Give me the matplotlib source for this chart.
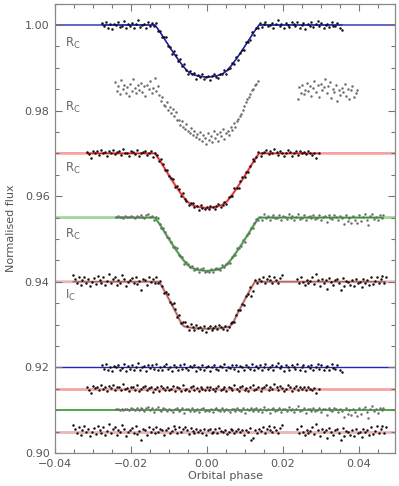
import numpy as np
import matplotlib
matplotlib.use("Agg")
import matplotlib.pyplot as plt
from matplotlib.ticker import MultipleLocator

# ---- transit shapes (fraction of full depth) ----
RC_SHAPE_PHASE = [-0.06, -0.0137, -0.0125, -0.0110, -0.0095, -0.0080, -0.0065, -0.0052, -0.0040,
                  -0.0025, 0.0, 0.0025, 0.0040, 0.0052, 0.0065, 0.0080, 0.0095, 0.0110, 0.0125,
                  0.0137, 0.06]
RC_SHAPE = [0, 0, 0.12, 0.29, 0.46, 0.62, 0.77, 0.88, 0.94, 0.975, 1.0, 0.975, 0.94, 0.88, 0.77,
            0.62, 0.46, 0.29, 0.12, 0, 0]
IC_SHAPE_PHASE = [-0.06, -0.0126, -0.0110, -0.0095, -0.0080, -0.0068, -0.0060, -0.0040, 0.0,
                  0.0040, 0.0060, 0.0068, 0.0080, 0.0095, 0.0110, 0.0126, 0.06]
IC_SHAPE = [0, 0, 0.22, 0.45, 0.68, 0.88, 0.95, 0.98, 1.0, 0.98, 0.95, 0.88, 0.68, 0.45, 0.22, 0, 0]

# baselines and depths of the four fitted light curves
BASE = {"blue": 1.000, "red": 0.970, "green": 0.955, "ic": 0.940}
DEPTH = {"blue": 0.0122, "red": 0.0128, "green": 0.0125, "ic": 0.0110}
RESID_LEVEL = {"blue": 0.920, "red": 0.915, "green": 0.910, "ic": 0.905}

# ---- observations: phase and residual, both in units of 1e-4 ----
blue_phase = [
    -276, -271, -266, -260, -255, -250, -245, -239, -234, -229,
    -224, -218, -213, -208, -203, -197, -192, -187, -182, -176,
    -171, -166, -161, -155, -150, -145, -140, -134, -129, -124,
    -119, -113, -108, -103, -98, -92, -87, -82, -77, -71,
    -66, -61, -56, -50, -45, -40, -35, -29, -24, -19,
    -14, -8, -3, 2, 7, 13, 18, 23, 28, 34,
    39, 44, 49, 55, 60, 65, 70, 76, 81, 86,
    91, 97, 102, 107, 112, 118, 123, 128, 133, 139,
    144, 149, 154, 160, 165, 170, 175, 181, 186, 191,
    196, 202, 207, 212, 217, 223, 228, 233, 238, 244,
    249, 254, 259, 265, 270, 275, 280, 286, 291, 296,
    301, 307, 312, 317, 322, 328, 333, 338, 343, 349,
    355]
blue_resid = [
    5, -3, 8, -6, 2, -9, 3, 0, 6, -5,
    -2, 9, -8, 3, -3, 5, -6, 2, 11, -5,
    0, 3, -8, 6, -2, 5, -3, 8, -5, 2,
    -6, 3, 9, -3, 0, -8, 5, 2, -5, 6,
    -3, 8, -2, -6, 3, 0, 5, -9, 2, -3,
    6, -5, 0, 3, -8, 2, 5, -3, -6, 3,
    0, 8, -5, 2, -2, 6, -3, 5, -8, 3,
    2, -5, 6, 0, -3, 9, -6, 3, -2, 5,
    -5, 2, 8, -3, 0, 5, -6, 3, 11, -2,
    3, -8, 5, 0, -5, 6, 2, -3, 8, -6,
    0, 5, -9, 3, -2, 6, -5, 2, 9, -3,
    5, -6, 0, 3, -5, 8, -2, -3, 5, -6,
    -11]

red_phase = [
    -316, -311, -306, -300, -295, -290, -285, -279, -274, -269,
    -264, -258, -253, -248, -243, -237, -232, -227, -222, -216,
    -211, -206, -201, -195, -190, -185, -180, -174, -169, -164,
    -159, -153, -148, -143, -138, -132, -127, -122, -117, -111,
    -106, -101, -96, -90, -85, -80, -75, -69, -64, -59,
    -54, -48, -43, -38, -33, -27, -22, -17, -12, -6,
    -1, 4, 9, 15, 20, 25, 30, 36, 41, 46,
    51, 57, 62, 67, 72, 78, 83, 88, 93, 99,
    104, 109, 114, 120, 125, 130, 135, 141, 146, 151,
    156, 162, 167, 172, 177, 183, 188, 193, 198, 204,
    209, 214, 219, 225, 230, 235, 240, 246, 251, 256,
    261, 267, 272, 277, 282, 288, 295]
red_resid = [
    3, -2, -10, 6, 2, 5, -3, 8, 0, 3,
    -5, 6, 2, 9, -2, 3, 5, -3, 11, 0,
    2, -6, 5, 3, -2, 8, -5, 0, 3, 6,
    -3, 2, 5, -8, 0, 3, -5, 6, 2, -2,
    5, -3, 0, 6, -6, 3, 2, -5, 8, -2,
    0, -5, 3, 6, -3, 2, -6, 5, 0, -3,
    3, -2, 5, 0, -5, 2, 6, -3, 0, 3,
    -6, 5, 2, -3, 8, 0, -5, 3, 6, -2,
    2, -5, 3, 9, -3, 0, 5, -6, 2, 3,
    8, -2, 5, 0, 11, 3, -3, 6, 2, -5,
    0, 8, 3, -5, 2, 6, -3, 5, 0, 3,
    -2, 5, 0, -3, 2, -10, 0]

green_phase = [
    -240, -235, -230, -225, -220, -215, -210, -205, -200, -195,
    -190, -185, -180, -175, -170, -165, -160, -155, -150, -145,
    -140, -135, -130, -125, -120, -115, -110, -105, -100, -95,
    -90, -85, -80, -75, -70, -65, -60, -55, -50, -45,
    -40, -35, -30, -25, -20, -15, -10, -5, 0, 5,
    10, 15, 20, 25, 30, 35, 40, 45, 50, 55,
    60, 65, 70, 75, 80, 85, 90, 95, 100, 105,
    110, 115, 120, 125, 130, 135, 140, 145, 150, 155,
    160, 165, 170, 175, 180, 185, 190, 195, 200, 205,
    210, 215, 220, 225, 230, 235, 240, 245, 250, 255,
    260, 265, 270, 275, 280, 285, 290, 295, 300, 305,
    310, 315, 320, 325, 330, 335, 340, 345, 350, 355,
    360, 365, 370, 375, 380, 385, 390, 395, 400, 405,
    410, 415, 420, 425, 430, 435, 440, 445, 450, 455,
    460, 463]
green_resid = [
    2, 3, 1, 2, 0, 3, 2, 1, 4, 2,
    0, 4, 1, 6, 2, -2, 5, 8, 1, 4,
    -5, 3, 8, 0, -3, 5, 2, -2, 3, 0,
    -5, 2, 6, -3, 0, 5, -6, 3, 2, -2,
    5, -3, 0, 3, -5, 2, 6, -2, 0, -3,
    3, -5, 2, 5, 0, -3, 6, -2, 3, 0,
    -5, 3, 2, -3, 6, 0, -2, 5, -6, 3,
    0, 5, -2, 3, 6, -3, 2, -5, 8, 0,
    3, -6, 2, 5, -2, 0, 6, -5, 3, 2,
    -3, 8, 0, 3, -5, 2, 9, -3, 0, 5,
    -6, 2, 3, -2, 5, -3, 0, 6, -5, 2,
    3, -11, 5, 0, -3, 6, 2, -5, 3, -2,
    -16, 5, -8, 0, -12, 3, -5, -13, 6, -9,
    2, 8, -5, -18, 3, 9, -3, 2, -6, 5,
    0, 6]

ic_phase = [
    -353, -348, -343, -338, -333, -328, -323, -318, -313, -308,
    -303, -298, -293, -288, -283, -278, -273, -268, -263, -258,
    -253, -248, -243, -238, -233, -228, -223, -218, -213, -208,
    -203, -198, -193, -188, -183, -178, -173, -168, -163, -158,
    -153, -148, -143, -138, -133, -128, -123, -118, -113, -108,
    -103, -98, -93, -88, -83, -78, -73, -68, -63, -58,
    -53, -48, -43, -38, -33, -28, -23, -18, -13, -8,
    -3, 2, 7, 12, 17, 22, 27, 32, 37, 42,
    47, 52, 57, 62, 67, 72, 77, 82, 87, 92,
    97, 102, 107, 112, 117, 122, 127, 132, 137, 142,
    147, 152, 157, 162, 167, 172, 177, 182, 187, 192,
    197, 237, 242, 247, 252, 257, 262, 267, 272, 277,
    282, 287, 292, 297, 302, 307, 312, 317, 322, 327,
    332, 337, 342, 347, 352, 357, 362, 367, 372, 377,
    382, 387, 392, 397, 402, 407, 412, 417, 422, 427,
    432, 437, 442, 447, 452, 457, 462, 467, 470]
ic_resid = [
    16, 7, -4, 11, -8, 3, 12, -2, 6, -10,
    0, 8, -6, 14, 4, -3, 10, -7, 2, 18,
    -4, 7, 11, -8, 3, -2, 15, 6, -11, 0,
    4, 8, -3, 12, -6, 2, -20, 7, 3, -8,
    10, 0, 6, -4, 11, -2, 7, 3, -7, 4,
    8, -3, 2, 12, 6, -4, 10, 0, 7, 11,
    3, -6, 8, 2, -4, 7, 0, 4, -3, 6,
    -8, 3, 7, -4, 0, 6, -3, 8, 2, -2,
    4, -6, 0, 7, 3, -4, 2, 6, -2, 3,
    -7, 4, 0, 8, -20, -16, 3, -4, 6, 2,
    10, -3, 7, 14, 4, -2, 11, 3, -4, 8,
    15, 7, -3, 12, 0, -8, 4, -4, 2, 10,
    -6, 18, 3, -11, 7, -2, 4, -16, 8, 0,
    -7, 3, 6, -4, -20, 8, -10, 2, 0, -8,
    4, -11, 7, -3, 0, -12, 6, -2, 3, -8,
    10, -6, 2, 12, -4, 7, 14, -3, 11]

# second R_C light curve (no fit): phase (1e-4) and flux (1e-4)
grey_phase = [
    -242, -238, -234, -230, -226, -222, -218, -214, -210, -206,
    -202, -198, -194, -190, -186, -182, -178, -174, -170, -166,
    -162, -158, -154, -150, -146, -142, -138, -134, -130, -126,
    -122, -118, -114, -110, -106, -102, -98, -94, -90, -86,
    -82, -78, -74, -70, -66, -62, -58, -54, -50, -46,
    -42, -38, -34, -30,
    -26, -22, -18, -14, -10, -6, -2, 2, 6, 10,
    14, 18, 22, 26, 30, 34, 38, 42, 46, 50,
    54, 58, 62, 66, 70, 74, 78, 82, 86, 90,
    94, 98, 102, 106, 110, 114, 118, 122, 126, 130,
    134,
    239, 243, 247, 251, 255, 259, 263, 267, 271, 275,
    279, 283, 287, 291, 295, 299, 303, 307, 311, 315,
    319, 323, 327, 331, 335, 339, 343, 347, 351, 355,
    359, 363, 367, 371, 375, 379, 383, 387, 391, 395]
grey_flux = [
    9866, 9846, 9857, 9838, 9871, 9850, 9860, 9842, 9854, 9835,
    9863, 9845, 9874, 9852, 9840, 9860, 9848, 9865, 9843, 9857,
    9834, 9859, 9850, 9869, 9841, 9853, 9876, 9846, 9858, 9837,
    9822, 9832, 9812, 9810, 9821, 9802, 9809, 9795, 9803, 9787,
    9796, 9779, 9777, 9766, 9776, 9762, 9758, 9769, 9752, 9748,
    9759, 9743, 9753, 9738,
    9746, 9733, 9750, 9728, 9742, 9737, 9723, 9747, 9731, 9741,
    9726, 9752, 9735, 9745, 9730, 9750, 9740, 9758, 9734, 9747,
    9753, 9743, 9762, 9755, 9770, 9762, 9776, 9781, 9788, 9792,
    9802, 9810, 9820, 9826, 9832, 9838, 9847, 9850, 9860, 9862,
    9868,
    9828, 9854, 9842, 9860, 9838, 9849, 9865, 9846, 9857, 9835,
    9852, 9869, 9843, 9859, 9832, 9862, 9847, 9854, 9873, 9840,
    9857, 9866, 9829, 9850, 9844, 9860, 9823, 9849, 9836, 9853,
    9843, 9863, 9833, 9851, 9826, 9847, 9857, 9831, 9840, 9848]

# band labels: text, flux
LABELS = [("R$_\\mathrm{C}$", 0.9957), ("R$_\\mathrm{C}$", 0.9807), ("R$_\\mathrm{C}$", 0.9664),
          ("R$_\\mathrm{C}$", 0.9511), ("I$_\\mathrm{C}$", 0.9368)]

X_TICKS = [-0.04, -0.02, 0.0, 0.02, 0.04]
X_TICK_LABELS = ["\u22120.04", "\u22120.02", "0.00", "0.02", "0.04"]
Y_TICKS = [0.90, 0.92, 0.94, 0.96, 0.98, 1.00]
Y_TICK_LABELS = ["0.90", "0.92", "0.94", "0.96", "0.98", "1.00"]


def model(p, key, sp, s):
    return BASE[key] - DEPTH[key] * np.interp(p, sp, s)


fig = plt.figure(figsize=(3.99, 4.86), dpi=100)
ax = fig.add_axes([0.138, 0.068, 0.852, 0.9246])

curves = [
    # key, phases, resid, shape, light line, dark line, dark lw, point colour
    ("blue", blue_phase, blue_resid, (RC_SHAPE_PHASE, RC_SHAPE), "#2424b8", "#2424b8", 1.0, "#111111"),
    ("red", red_phase, red_resid, (RC_SHAPE_PHASE, RC_SHAPE), "#f4a4a4", "#ee1c1c", 0.9, "#111111"),
    ("green", green_phase, green_resid, (RC_SHAPE_PHASE, RC_SHAPE), "#9bd89b", "#2b9a2b", 0.9, "#6e6e6e"),
    ("ic", ic_phase, ic_resid, (IC_SHAPE_PHASE, IC_SHAPE), "#e8b6b6", "#a85050", 0.8, "#111111"),
]
resid_line = {"blue": ("#2424b8", 1.0), "red": ("#f4a4a4", 2.0),
              "green": ("#2b9a2b", 1.2), "ic": ("#e8b6b6", 2.0)}
MS = 1.8

for key, ph, res, (sp, s), light, dark, dlw, pc in curves:
    ph = np.array(ph) * 1e-4
    res = np.array(res) * 1e-4
    sp = np.array(sp)
    s = np.array(s)
    # full-range fitted curve
    ax.plot(sp, BASE[key] - DEPTH[key] * s, color=light,
            lw=1.0 if key == "blue" else 2.0, zorder=1)
    # darker fit over the data span
    inner = sp[(sp > ph.min()) & (sp < ph.max())]
    xs = np.concatenate([[ph.min()], inner, [ph.max()]])
    ax.plot(xs, model(xs, key, sp, s), color=dark, lw=dlw, zorder=2)
    # data
    ax.plot(ph, model(ph, key, sp, s) + res, "o", color=pc, ms=MS, mew=0, zorder=3)
    # residuals
    rc, rlw = resid_line[key]
    ax.axhline(RESID_LEVEL[key], color=rc, lw=rlw, zorder=1)
    ax.plot(ph, RESID_LEVEL[key] + res, "o", color=pc, ms=MS, mew=0, zorder=3)

# unfitted R_C curve
ax.plot(np.array(grey_phase) * 1e-4, np.array(grey_flux) * 1e-4, "o",
        color="#6e6e6e", ms=MS, mew=0, zorder=3)

for txt, y in LABELS:
    ax.text(-0.0375, y, txt, fontsize=8.5, color="#666666", ha="left", va="center")

ax.set_xlim(-0.04, 0.0495)
ax.set_ylim(0.90, 1.005)
ax.set_xticks(X_TICKS)
ax.set_xticklabels(X_TICK_LABELS)
ax.set_yticks(Y_TICKS)
ax.set_yticklabels(Y_TICK_LABELS)
ax.xaxis.set_minor_locator(MultipleLocator(0.005))
ax.yaxis.set_minor_locator(MultipleLocator(0.005))
ax.tick_params(which="both", direction="in", top=True, right=True, color="#777777",
               labelcolor="#555555", labelsize=8, width=0.8)
ax.tick_params(which="major", length=5, pad=4)
ax.tick_params(which="minor", length=3)
for sp_ in ax.spines.values():
    sp_.set_color("#888888")
    sp_.set_linewidth(0.9)

ax.set_xlabel("Orbital phase", fontsize=8, color="#555555", labelpad=2)
ax.set_ylabel("Normalised flux", fontsize=8, color="#555555", labelpad=6)

fig.savefig("out.png", dpi=100)
